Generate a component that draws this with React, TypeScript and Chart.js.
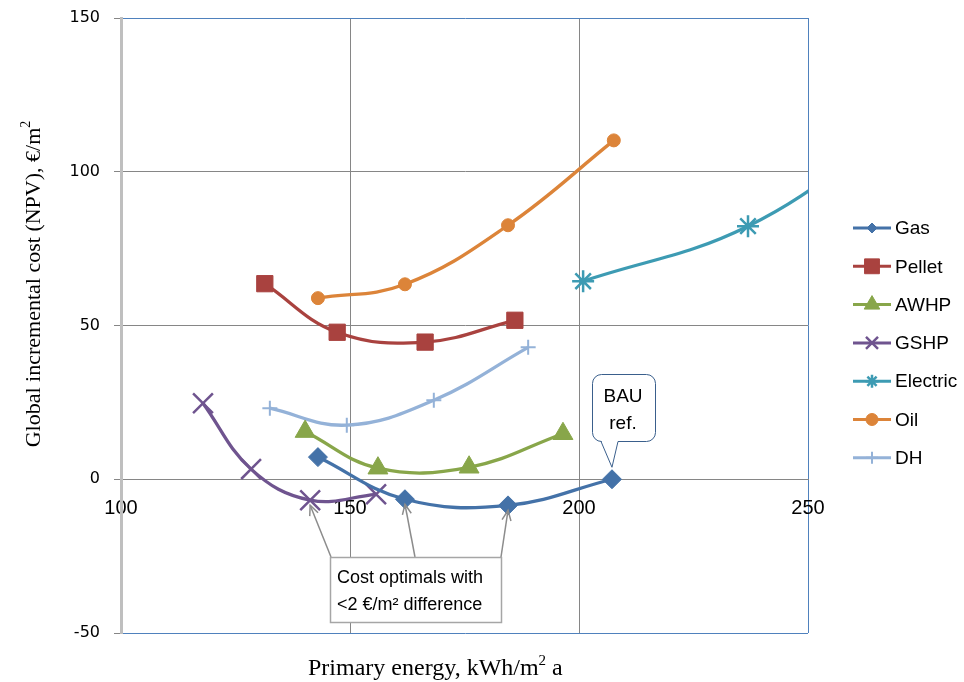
import React, { useEffect, useRef } from 'react';
import { Chart, registerables } from 'chart.js';
import { drawPoint } from 'chart.js/helpers';

Chart.register(...registerables);

// ---- data ----
const seriesNames = ['Gas', 'Pellet', 'AWHP', 'GSHP', 'Electric', 'Oil', 'DH'];

const gasX = [143.0, 162.0, 184.5, 207.2];
const gasY = [7.2, -6.5, -8.5, 0];
const pelletX = [131.4, 147.2, 166.4, 186.0];
const pelletY = [63.6, 47.8, 44.6, 51.7];
const awhpX = [140.2, 156.1, 176.0, 196.5];
const awhpY = [15.5, 3.6, 3.9, 14.8];
const gshpX = [117.9, 128.4, 141.3, 155.7];
const gshpY = [24.7, 3.3, -6.8, -4.9];
const electricX = [200.9, 236.9, 270.0];
const electricY = [64.4, 82.3, 115.0];
const oilX = [143.0, 162.0, 184.5, 207.6];
const oilY = [58.9, 63.4, 82.6, 110.2];
const dhX = [132.5, 149.3, 168.3, 188.9];
const dhY = [23.1, 17.6, 25.7, 42.9];

const xMin = 100, xMax = 250, xStep = 50;
const yMin = -50, yMax = 150, yStep = 50;

const bauX = 207.2, bauY = 0;
const optimalTargets = [
  [141.3, -6.8],
  [162.0, -6.5],
  [184.5, -8.5],
];

const seriesX = [gasX, pelletX, awhpX, gshpX, electricX, oilX, dhX];
const seriesY = [gasY, pelletY, awhpY, gshpY, electricY, oilY, dhY];

// ---- styles ----
const colors = ['#4472A8', '#A9423F', '#88A64A', '#6F548F', '#3D9BB3', '#DC8439', '#94B2D8'];
const pointStyles = ['rectRot', 'rect', 'triangle', 'crossRot', 'star', 'circle', 'cross'];
const pointRadii = [9.5, 11.5, 11.5, 14, 11, 6.5, 7.5];
const pointBorders = [1, 1, 1, 2.5, 2.5, 1, 2];
const legendRadii = [5, 10.5, 9, 8.5, 6.5, 6, 6];

const GRID = '#868686';
const BLUE = '#4F81BD';

function drawRich(ctx: CanvasRenderingContext2D, parts: { t: string; font: string; dy?: number }[], x: number, y: number, center: boolean) {
  let total = 0;
  const widths = parts.map((p) => {
    ctx.font = p.font;
    const w = ctx.measureText(p.t).width;
    total += w;
    return w;
  });
  let cx = center ? x - total / 2 : x;
  parts.forEach((p, i) => {
    ctx.font = p.font;
    ctx.fillText(p.t, cx, y + (p.dy || 0));
    cx += widths[i];
  });
}

const customPlugin = {
  id: 'customDecor',
  afterDraw(chart: any) {
    const ctx: CanvasRenderingContext2D = chart.ctx;
    const xs = chart.scales.x;
    const ys = chart.scales.y;
    ctx.save();

    // legend
    const lx0 = 853, lx1 = 891, lmx = 872, ltx = 895;
    seriesNames.forEach((name, i) => {
      const y = 228 + i * 38.3;
      ctx.strokeStyle = colors[i];
      ctx.lineWidth = 3;
      ctx.beginPath();
      ctx.moveTo(lx0, y);
      ctx.lineTo(lx1, y);
      ctx.stroke();
      ctx.fillStyle = colors[i];
      ctx.lineWidth = pointBorders[i];
      drawPoint(ctx, { pointStyle: pointStyles[i], radius: legendRadii[i], rotation: 0, borderWidth: pointBorders[i] } as any, lmx, y);
      ctx.fillStyle = '#000';
      ctx.font = '19px "Liberation Sans"';
      ctx.textBaseline = 'middle';
      ctx.textAlign = 'left';
      ctx.fillText(name, ltx, y + 1);
    });

    // axis titles
    ctx.fillStyle = '#000';
    ctx.textBaseline = 'alphabetic';
    ctx.textAlign = 'left';
    drawRich(ctx, [
      { t: 'Primary energy, kWh/m', font: '24px "Liberation Serif"' },
      { t: '2', font: '15px "Liberation Serif"', dy: -10 },
      { t: ' a', font: '24px "Liberation Serif"' },
    ], 308, 675, false);

    ctx.save();
    ctx.translate(40, 284);
    ctx.rotate(-Math.PI / 2);
    drawRich(ctx, [
      { t: 'Global incremental cost (NPV), \u20AC/m', font: '22px "Liberation Serif"' },
      { t: '2', font: '14px "Liberation Serif"', dy: -10 },
    ], 0, 0, true);
    ctx.restore();

    // BAU callout
    const tipX = xs.getPixelForValue(bauX);
    const tipY = ys.getPixelForValue(bauY) - 12;
    const bx0 = 592.5, bx1 = 655.5, by0 = 374.5, by1 = 441.5, r = 9;
    ctx.beginPath();
    ctx.moveTo(bx0 + r, by0);
    ctx.lineTo(bx1 - r, by0);
    ctx.arcTo(bx1, by0, bx1, by0 + r, r);
    ctx.lineTo(bx1, by1 - r);
    ctx.arcTo(bx1, by1, bx1 - r, by1, r);
    ctx.lineTo(618, by1);
    ctx.lineTo(tipX, tipY);
    ctx.lineTo(601, by1);
    ctx.lineTo(bx0 + r, by1);
    ctx.arcTo(bx0, by1, bx0, by1 - r, r);
    ctx.lineTo(bx0, by0 + r);
    ctx.arcTo(bx0, by0, bx0 + r, by0, r);
    ctx.closePath();
    ctx.fillStyle = '#fff';
    ctx.fill();
    ctx.strokeStyle = '#3A5F8C';
    ctx.lineWidth = 1;
    ctx.stroke();
    ctx.fillStyle = '#000';
    ctx.font = '19px "Liberation Sans"';
    ctx.textAlign = 'center';
    ctx.fillText('BAU', 623, 402);
    ctx.fillText('ref.', 623, 429);

    // cost optimal arrows
    const starts = [[331, 557], [415, 557], [501, 557]];
    ctx.strokeStyle = '#8C8C8C';
    ctx.lineWidth = 1.5;
    optimalTargets.forEach((t, i) => {
      const ex = xs.getPixelForValue(t[0]);
      const ey = ys.getPixelForValue(t[1]) + 5;
      const sx = starts[i][0], sy = starts[i][1];
      ctx.beginPath();
      ctx.moveTo(sx, sy);
      ctx.lineTo(ex, ey);
      ctx.stroke();
      const ang = Math.atan2(ey - sy, ex - sx);
      const L = 11, a = 0.42;
      ctx.beginPath();
      ctx.moveTo(ex - L * Math.cos(ang - a), ey - L * Math.sin(ang - a));
      ctx.lineTo(ex, ey);
      ctx.lineTo(ex - L * Math.cos(ang + a), ey - L * Math.sin(ang + a));
      ctx.stroke();
    });
    ctx.fillStyle = '#fff';
    ctx.fillRect(330.5, 557.5, 171, 65);
    ctx.strokeStyle = '#A6A6A6';
    ctx.lineWidth = 1.5;
    ctx.strokeRect(330.5, 557.5, 171, 65);
    ctx.fillStyle = '#000';
    ctx.font = '18px "Liberation Sans"';
    ctx.textAlign = 'left';
    ctx.fillText('Cost optimals with', 337, 583);
    ctx.fillText('<2 \u20AC/m\u00B2 difference', 337, 610);

    ctx.restore();
  },
};

export default function App() {
  const ref = useRef<HTMLCanvasElement>(null);
  useEffect(() => {
    if (!ref.current) return;
    const datasets = seriesNames.map((name, i) => ({
      label: name,
      data: seriesX[i].map((x, j) => ({ x, y: seriesY[i][j] })),
      borderColor: colors[i],
      backgroundColor: colors[i],
      borderWidth: 3.3,
      tension: 0.4,
      pointStyle: pointStyles[i],
      pointRadius: pointRadii[i],
      pointBorderWidth: pointBorders[i],
      pointBackgroundColor: colors[i],
      pointBorderColor: colors[i],
      fill: false,
    }));
    const chart = new Chart(ref.current, {
      type: 'line',
      data: { datasets },
      plugins: [customPlugin],
      options: {
        animation: false,
        responsive: false,
        devicePixelRatio: 1,
        layout: { padding: { left: 0, top: 18, right: 156, bottom: 49 } },
        plugins: { legend: { display: false }, tooltip: { enabled: false } },
        scales: {
          x: {
            type: 'linear',
            min: xMin,
            max: xMax,
            position: { y: 0 } as any,
            afterFit: (s: any) => { s.paddingLeft = 0; s.paddingRight = 0; },
            ticks: {
              stepSize: xStep,
              autoSkip: false,
              maxRotation: 0,
              padding: 17,
              color: '#000',
              font: { family: 'Liberation Sans', size: 20 },
            },
            grid: {
              drawTicks: false,
              lineWidth: 1,
              color: (c: any) => {
                const v = c.tick ? c.tick.value : null;
                if (v === xMin) return 'rgba(0,0,0,0)';
                if (v === xMax) return BLUE;
                return GRID;
              },
            },
            border: { display: true, color: GRID, width: 1 },
          },
          y: {
            type: 'linear',
            min: yMin,
            max: yMax,
            position: 'left',
            afterFit: (s: any) => { s.width = 121; s.paddingTop = 0; s.paddingBottom = 0; },
            ticks: {
              stepSize: yStep,
              padding: 14,
              color: '#000',
              font: { family: 'DejaVu Sans', size: 16 },
            },
            grid: {
              drawTicks: true,
              tickLength: 7,
              tickColor: GRID,
              lineWidth: 1,
              color: (c: any) => {
                const v = c.tick ? c.tick.value : null;
                if (v === yMin || v === yMax) return BLUE;
                return GRID;
              },
            },
            border: { display: true, color: '#BFBFBF', width: 3 },
          },
        },
      },
    });
    return () => chart.destroy();
  }, []);
  return (
    <div style={{ position: 'absolute', left: 0, top: 0, width: 964, height: 682 }}>
      <canvas ref={ref} width={964} height={682} style={{ display: 'block' }} />
    </div>
  );
}
